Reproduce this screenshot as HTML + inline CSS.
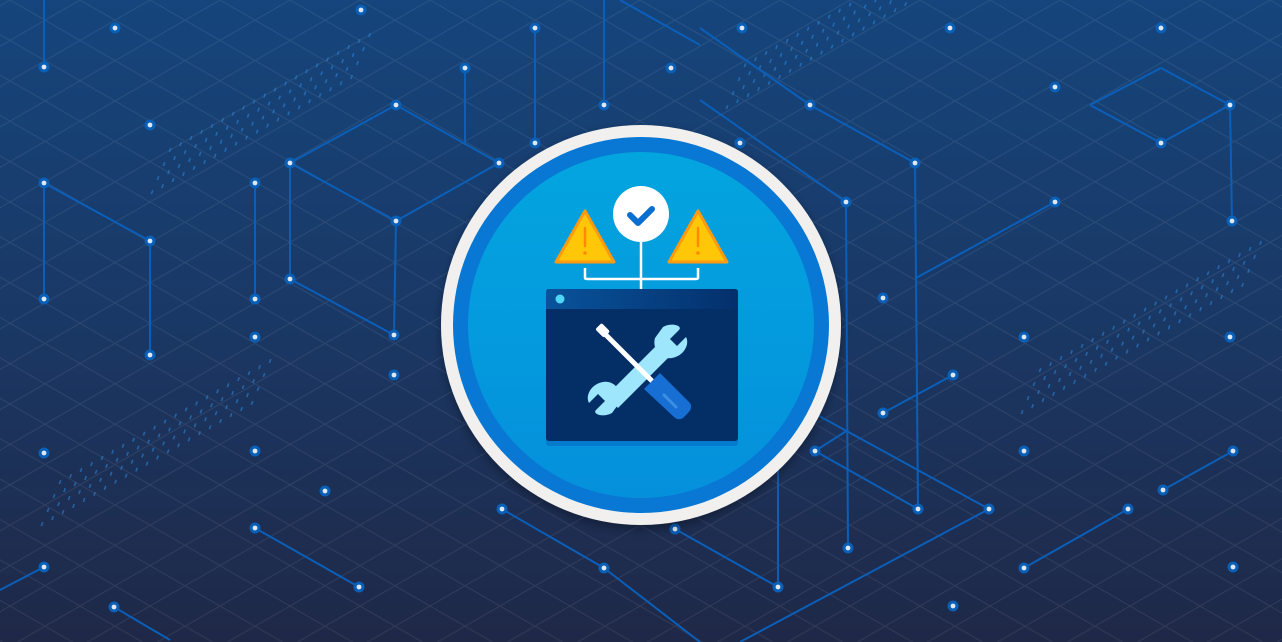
<!DOCTYPE html>
<html><head><meta charset="utf-8"><style>
html,body{margin:0;padding:0;width:1282px;height:642px;overflow:hidden;background:#1e2a4a}
svg{display:block}
</style></head><body>
<svg id="s" width="1282" height="642" viewBox="0 0 1282 642" xmlns="http://www.w3.org/2000/svg">
<defs>
<linearGradient id="bg" x1="0" y1="0" x2="0" y2="1">
<stop offset="0" stop-color="#15457c"/><stop offset="0.5" stop-color="#1a3865"/><stop offset="1" stop-color="#1f2847"/>
</linearGradient>
<pattern id="grid" width="70" height="40.4" patternUnits="userSpaceOnUse" x="10" y="0">
<path d="M0 0L70 40.4M0 40.4L70 0" stroke="#ffffff" stroke-opacity="0.08" stroke-width="1" fill="none"/>
</pattern>
<linearGradient id="title" x1="0" y1="0" x2="1" y2="0">
<stop offset="0" stop-color="#08539b"/><stop offset="1" stop-color="#04306c"/>
</linearGradient>
<linearGradient id="inner" x1="0" y1="0" x2="0" y2="1">
<stop offset="0" stop-color="#03a5df"/><stop offset="1" stop-color="#0590dc"/>
</linearGradient>
<filter id="sh" x="-20%" y="-20%" width="140%" height="140%"><feDropShadow dx="0" dy="4" stdDeviation="5" flood-color="#000" flood-opacity="0.35"/></filter>
</defs>
<rect width="1282" height="642" fill="url(#bg)"/>
<rect width="1282" height="642" fill="url(#grid)"/>
<g id="dots" fill="#2a7fd0"></g>
<g id="lines" stroke="#0b5fb8" stroke-width="2" fill="none"></g>
<g id="nodes"></g>

<circle cx="641" cy="325" r="200" fill="#f1f0ee" filter="url(#sh)"/>
<circle cx="641" cy="325" r="188" fill="#0878d4"/>
<circle cx="641" cy="325" r="173" fill="url(#inner)"/>
<g stroke="#fff" stroke-width="2.5" fill="none">
<path d="M641 240V290"/>
<path d="M585 268V278Q585 279 588 279H695Q698 279 698 278V268"/>
</g>
<circle cx="641" cy="214" r="28" fill="#fff"/>
<path d="M630 215L638 223L652 209" stroke="#0b6fd0" stroke-width="6" stroke-linecap="round" stroke-linejoin="round" fill="none"/>
<g stroke="#ff9a0f" stroke-width="3" stroke-linejoin="round" fill="#ffc708">
<path d="M585 211L556 262H614Z"/>
<path d="M698 211L669 262H727Z"/>
</g>
<g stroke="#ff8a00" stroke-width="2.5" stroke-linecap="round">
<path d="M585 228V246"/><path d="M698 228V246"/>
</g>
<circle cx="585" cy="253" r="1.8" fill="#ff8a00"/><circle cx="698" cy="253" r="1.8" fill="#ff8a00"/>
<rect x="546" y="294" width="192" height="152" rx="3" fill="#0470c4" opacity="0.7"/>
<rect x="546" y="289" width="192" height="152" rx="3" fill="#032e66"/>
<path d="M549 289H735Q738 289 738 292V309H546V292Q546 289 549 289Z" fill="url(#title)"/>
<circle cx="560" cy="299" r="4.5" fill="#4fd6f5"/>
<g fill="#9de6fb">
<path d="M606 396L662 340L674 352L618 408Z"/>
<path d="M663 327C672 322 683 326 679 330L670 339L677 346L686 337C690 344 684 356 672 358C660 360 652 348 655 338Z"/>
<path d="M612 413C603 418 592 414 596 410L605 401L598 394L589 403C585 396 591 384 603 382C615 380 623 392 620 402Z"/>
</g>
<path d="M603 332L656 385" stroke="#fff" stroke-width="5" stroke-linecap="round"/>
<rect x="597" y="326" width="12" height="9" rx="2" transform="rotate(45 603 330)" fill="#fff"/>
<path d="M652 381L660 373L690 403Q693 408 688 413L683 418Q678 421 674 417L644 389Z" fill="#176fd3"/>
<path d="M664 395L676 407" stroke="#3c8fe3" stroke-width="3" stroke-linecap="round"/>
</svg>
<script>
var NS="http://www.w3.org/2000/svg";
function el(p,t,a){var e=document.createElementNS(NS,t);for(var k in a)e.setAttribute(k,a[k]);p.appendChild(e);return e;}
var L=document.getElementById("lines"),N=document.getElementById("nodes"),D=document.getElementById("dots");
var lines=[
[44,0,44,67],[44,183,150,241],[44,183,44,299],[150,241,150,355],[255,183,255,299],
[290,163,396,105],[290,163,290,279],[290,279,394,335],[396,221,394,335],[290,163,396,221],[396,221,499,163],[396,105,499,163],
[465,68,465,143],[535,28,535,143],[604,0,604,105],[700,28,810,105],[620,0,700,45],[810,105,915,163],[700,100,846,202],
[846,202,848,548],[915,163,918,509],[916,278,1055,202],
[1090,105,1161,68],[1161,68,1230,105],[1230,105,1161,143],[1161,143,1090,105],[1230,105,1232,221],
[883,413,953,375],[815,451,918,509],[790,400,989,509],[989,509,740,642],[778,470,778,587],[848,430,815,451],
[1024,568,1128,509],[1163,490,1233,451],[255,528,359,587],[114,607,170,640],
[502,509,604,568],[604,568,700,642],[675,529,778,587],[0,590,44,567]
];
lines.forEach(function(l){el(L,"line",{x1:l[0],y1:l[1],x2:l[2],y2:l[3]});});
var nodes=[[361,10],[115,28],[44,67],[150,125],[44,183],[150,241],[44,299],[150,355],[255,183],[255,299],[255,337],[290,163],[290,279],[396,105],[396,221],[394,335],[394,375],[465,68],[499,163],[535,28],[535,143],[604,105],[671,68],[742,28],[740,143],[810,105],[915,163],[846,202],[950,28],[1055,87],[1161,28],[1161,143],[1230,105],[1232,221],[1055,202],[883,298],[1024,337],[1230,337],[953,375],[883,413],[1024,451],[815,451],[1233,451],[44,453],[255,451],[325,491],[255,528],[44,567],[114,607],[359,587],[502,509],[604,568],[675,529],[778,587],[848,548],[918,509],[989,509],[953,606],[1024,568],[1128,509],[1163,490],[1233,567]];
nodes.forEach(function(n){el(N,"circle",{cx:n[0],cy:n[1],r:5.5,fill:"#0a5fb6"});el(N,"circle",{cx:n[0],cy:n[1],r:2.4,fill:"#dfe8f2"});});
var bands=[[152,190,210,4],[42,522,215,4],[727,105,205,4],[1022,410,225,4]];
bands.forEach(function(b){
 for(var r=0;r<b[3];r++){for(var i=0;i<b[2];i+=10.5){
  var x=b[0]+i+r*6,y=b[1]-i*0.577-r*14;
  el(D,"rect",{x:x,y:y,width:1.6,height:4,opacity:0.65,transform:"rotate(20 "+x+" "+y+")"});
 }}
});
</script>
</body></html>
